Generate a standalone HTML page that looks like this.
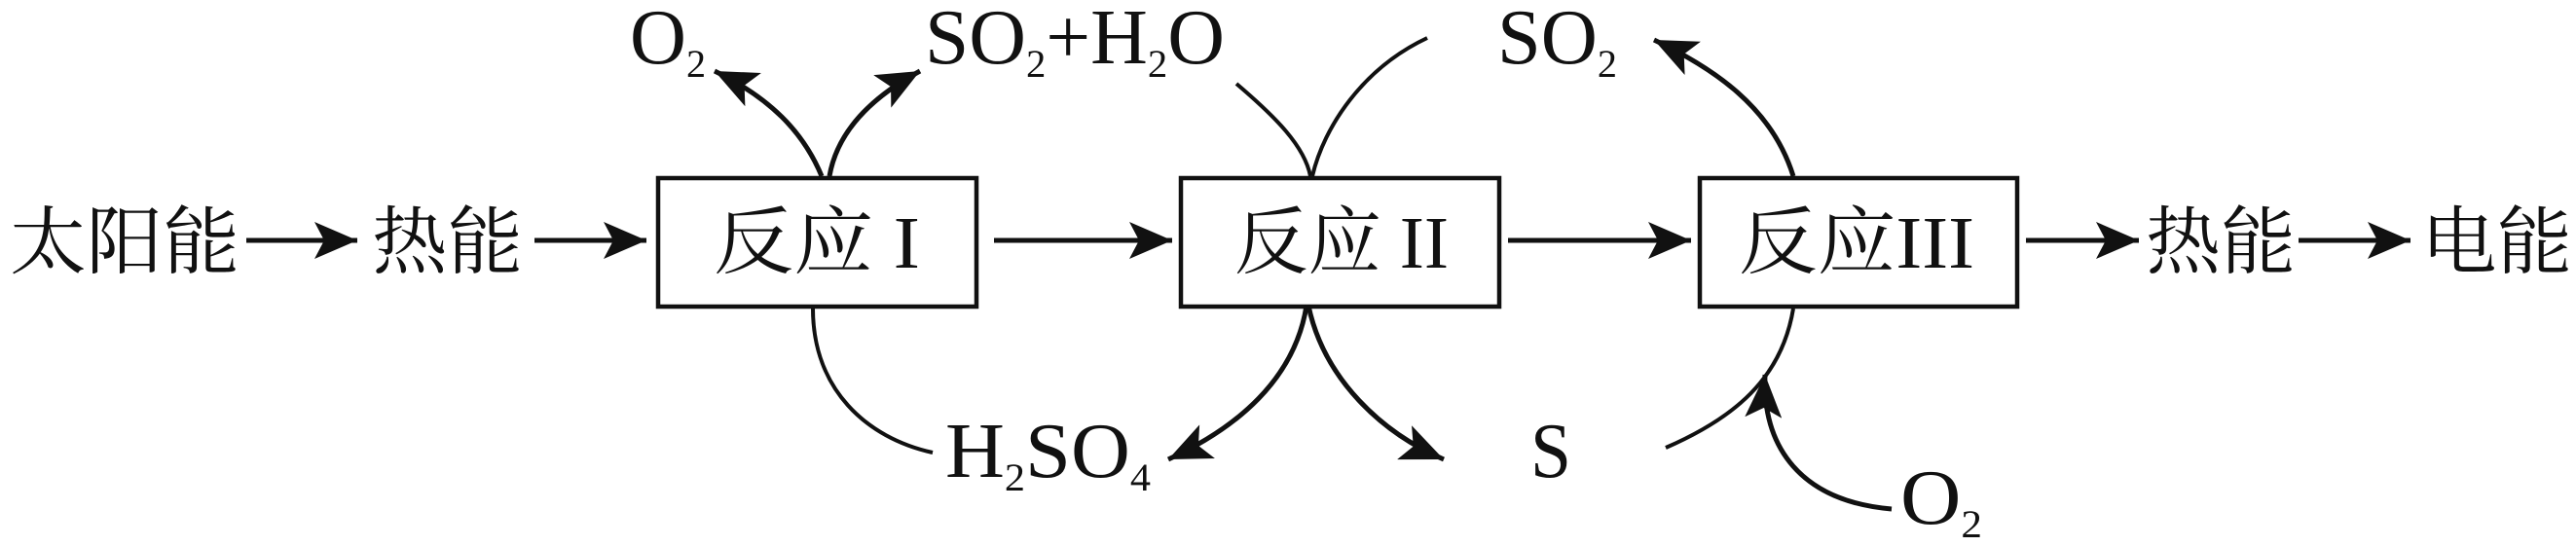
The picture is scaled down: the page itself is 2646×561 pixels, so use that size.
<!DOCTYPE html>
<html><head><meta charset="utf-8"><style>
html,body{margin:0;padding:0;background:#fff;}
svg{display:block;}
.cn{font-family:"Liberation Serif","Noto Serif CJK SC",serif;font-size:76px;fill:#111;}
.f{font-family:"Liberation Serif",serif;font-size:80px;fill:#111;}
.s{font-size:40px;}
</style></head><body>
<svg width="2646" height="561" viewBox="0 0 2646 561" xmlns="http://www.w3.org/2000/svg">
<defs>
<marker id="a" markerUnits="userSpaceOnUse" markerWidth="48" markerHeight="38" refX="44" refY="19" orient="auto">
<path d="M0,0 L44,19 L0,38 L10,19 Z" fill="#111"/>
</marker>
</defs>
<g stroke="#111" stroke-width="4.5" fill="#fff">
<rect x="676" y="183" width="327" height="132"/>
<rect x="1213" y="183" width="327" height="132"/>
<rect x="1746" y="183" width="326" height="132"/>
</g>
<g stroke="#111" stroke-width="5" fill="none" marker-end="url(#a)">
<line x1="253" y1="247" x2="367" y2="247"/>
<line x1="549" y1="247" x2="664" y2="247"/>
<line x1="1021" y1="247" x2="1204" y2="247"/>
<line x1="1549" y1="247" x2="1737" y2="247"/>
<line x1="2081" y1="247" x2="2197" y2="247"/>
<line x1="2361" y1="247" x2="2476" y2="247"/>
<path d="M844,181 C825,135 790,100 734,73"/>
<path d="M852,181 C860,135 895,100 945,73"/>
<path d="M1342,314 C1330,390 1270,440 1200,472"/>
<path d="M1344,314 C1360,390 1420,445 1483,472"/>
<path d="M1842,181 C1820,110 1760,70 1699,41"/>
<path d="M1943,523 C1850,515 1810,460 1813,385"/>
</g>
<g stroke="#111" stroke-width="4" fill="none">
<path d="M835,317 C835,400 890,450 958,465"/>
<path d="M1270,86 C1310,120 1340,150 1346,181"/>
<path d="M1466,39 C1400,70 1360,130 1348,181"/>
<path d="M1842,317 C1830,390 1780,430 1711,460"/>
</g>
<text class="cn" x="10" y="275" textLength="236" lengthAdjust="spacingAndGlyphs">太阳能</text>
<text class="cn" x="382" y="275" textLength="155" lengthAdjust="spacingAndGlyphs">热能</text>
<text class="cn" x="733" y="275" textLength="212" lengthAdjust="spacingAndGlyphs">反应 I</text>
<text class="cn" x="1268" y="275" textLength="220" lengthAdjust="spacingAndGlyphs">反应 II</text>
<text class="cn" x="1786" y="275" textLength="242" lengthAdjust="spacingAndGlyphs">反应III</text>
<text class="cn" x="2204" y="275" textLength="154" lengthAdjust="spacingAndGlyphs">热能</text>
<text class="cn" x="2487" y="275" textLength="155" lengthAdjust="spacingAndGlyphs">电能</text>
<text class="f" x="647" y="65" textLength="78" lengthAdjust="spacingAndGlyphs">O<tspan class="s" dy="14">2</tspan></text>
<text class="f" x="950" y="65" textLength="308" lengthAdjust="spacingAndGlyphs">SO<tspan class="s" dy="14">2</tspan><tspan dy="-14">+H</tspan><tspan class="s" dy="14">2</tspan><tspan dy="-14">O</tspan></text>
<text class="f" x="1538" y="65" textLength="123" lengthAdjust="spacingAndGlyphs">SO<tspan class="s" dy="14">2</tspan></text>
<text class="f" x="971" y="490" textLength="211" lengthAdjust="spacingAndGlyphs">H<tspan class="s" dy="14">2</tspan><tspan dy="-14">SO</tspan><tspan class="s" dy="14">4</tspan></text>
<text class="f" x="1572" y="490" textLength="42" lengthAdjust="spacingAndGlyphs">S</text>
<text class="f" x="1952" y="538" textLength="84" lengthAdjust="spacingAndGlyphs">O<tspan class="s" dy="14">2</tspan></text>
</svg>
</body></html>
